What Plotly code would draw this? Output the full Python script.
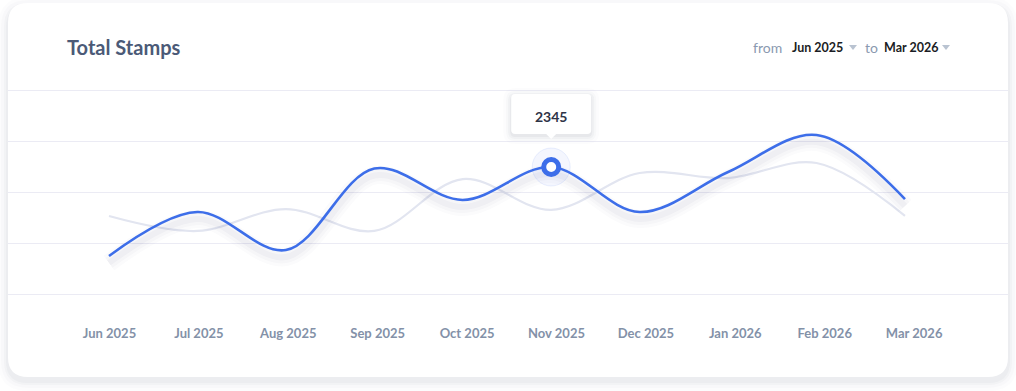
import plotly.graph_objects as go

# ---------------- data ----------------
months = ["Jun 2025", "Jul 2025", "Aug 2025", "Sep 2025", "Oct 2025",
          "Nov 2025", "Dec 2025", "Jan 2026", "Feb 2026", "Mar 2026"]
stamps_current = [1473, 1904, 1531, 2330, 2022, 2345, 1904, 2296, 2659, 2031]
stamps_previous = [1865, 1718, 1933, 1718, 2227, 1924, 2286, 2237, 2384, 1865]
highlight_month = "Nov 2025"
title_text = "Total Stamps"
range_from = "Jun 2025"
range_to = "Mar 2026"

# ---------------- geometry ----------------
W, H = 1016, 391
L, R, T, B = 8, 8, 87, 94
PW, PH = W - L - R, H - T - B
Y_BASE = H - B


def pxx(x):
    return (x - L) / PW


def pxy(y):
    return (Y_BASE - y) / PH


def rrect_paper(x0, y0, x1, y1, r):
    X0, X1, Yt, Yb = pxx(x0), pxx(x1), pxy(y0), pxy(y1)
    rx, ry = r / PW, r / PH
    return (f"M {X0+rx},{Yt} L {X1-rx},{Yt} Q {X1},{Yt} {X1},{Yt-ry} "
            f"L {X1},{Yb+ry} Q {X1},{Yb} {X1-rx},{Yb} L {X0+rx},{Yb} "
            f"Q {X0},{Yb} {X0},{Yb+ry} L {X0},{Yt-ry} Q {X0},{Yt} {X0+rx},{Yt} Z")


def rrect_px(x0, y0, x1, y1, r):
    # pixel offsets relative to anchor, y positive upward; y0 bottom, y1 top
    return (f"M {x0+r},{y1} L {x1-r},{y1} Q {x1},{y1} {x1},{y1-r} "
            f"L {x1},{y0+r} Q {x1},{y0} {x1-r},{y0} L {x0+r},{y0} "
            f"Q {x0},{y0} {x0},{y0+r} L {x0},{y1-r} Q {x0},{y1} {x0+r},{y1} Z")


BLUE = "#3d6ee9"
GRAY_LINE = "#e2e5f0"
FONT = "Lato"

hi = months.index(highlight_month)
units_per_px = 500 / 51
shadow_off = 7 * units_per_px
pad_units = 3 * units_per_px

fig = go.Figure()

# previous period line
fig.add_trace(go.Scatter(
    x=months, y=stamps_previous, mode="lines",
    line=dict(color=GRAY_LINE, width=2.2, shape="spline", smoothing=1.0),
    hoverinfo="skip", showlegend=False))

# soft shadow under the current line
for w, a in [(18, 0.018), (12, 0.025), (6, 0.03)]:
    fig.add_trace(go.Scatter(
        x=months, y=[v - shadow_off for v in stamps_current], mode="lines",
        line=dict(color=f"rgba(30,40,90,{a})", width=w, shape="spline", smoothing=1.0),
        hoverinfo="skip", showlegend=False))

# current line
fig.add_trace(go.Scatter(
    x=months, y=stamps_current, mode="lines",
    line=dict(color=BLUE, width=2.6, shape="spline", smoothing=1.0),
    hoverinfo="skip", showlegend=False))

# halo + ring marker
fig.add_trace(go.Scatter(
    x=[months[hi]], y=[stamps_current[hi]], mode="markers",
    marker=dict(size=38, color="rgba(61,110,233,0.06)",
                line=dict(color="rgba(61,110,233,0.10)", width=1)),
    hoverinfo="skip", showlegend=False))
fig.add_trace(go.Scatter(
    x=[months[hi]], y=[stamps_current[hi]], mode="markers",
    marker=dict(size=15, color="white", line=dict(color=BLUE, width=5)),
    hoverinfo="skip", showlegend=False))

# carrier for the label axis
fig.add_trace(go.Scatter(
    x=months, y=[None] * len(months), xaxis="x2", mode="lines",
    hoverinfo="skip", showlegend=False))

shapes = []
# card shadow + card
for g, a in [(10, 0.010), (7, 0.016), (4, 0.022), (2, 0.028)]:
    shapes.append(dict(type="path", xref="paper", yref="paper",
                       path=rrect_paper(8 - g, 3 - g + 4, 1008 + g, 377 + g + 4, 20 + g),
                       fillcolor=f"rgba(20,30,60,{a})", line=dict(width=0), layer="below"))
shapes.append(dict(type="path", xref="paper", yref="paper",
                   path=rrect_paper(8, 3, 1008, 377, 20),
                   fillcolor="white", line=dict(width=0), layer="below"))

# dropdown carets
for cx in (853, 946):
    shapes.append(dict(type="path", xref="paper", yref="paper",
                       path=f"M {pxx(cx-4)},{pxy(45)} L {pxx(cx+4)},{pxy(45)} L {pxx(cx)},{pxy(50)} Z",
                       fillcolor="#b9c3d1", line=dict(width=0), layer="above"))

# tooltip (pixel-sized, anchored at the highlighted point)
anchor = dict(xref="x", yref="y", xsizemode="pixel", ysizemode="pixel",
              xanchor=months[hi], yanchor=stamps_current[hi])
for g, a in [(8, 0.012), (5, 0.02), (3, 0.03), (1, 0.04)]:
    shapes.append(dict(type="path", path=rrect_px(-40 - g, 33 - g - 2, 40 + g, 73 + g - 2, 4 + g),
                       fillcolor=f"rgba(20,30,60,{a})", line=dict(width=0), layer="above", **anchor))
shapes.append(dict(type="path", path=rrect_px(-40, 33, 40, 73, 4),
                   fillcolor="white", line=dict(width=0), layer="above", **anchor))
shapes.append(dict(type="path", path="M -6,34 L 6,34 L 0,28 Z",
                   fillcolor="white", line=dict(width=0), layer="above", **anchor))

annotations = [
    dict(x=months[hi], y=stamps_current[hi], xref="x", yref="y", yshift=51,
         text=str(stamps_current[hi]), showarrow=False,
         font=dict(family=FONT, size=14, color="#2e3447", weight="bold")),
    dict(x=pxx(65), y=pxy(47), xref="paper", yref="paper", xanchor="left", yanchor="middle",
         text=title_text, showarrow=False,
         font=dict(family=FONT, size=20, color="#4b5a77", weight="bold")),
    dict(x=pxx(751), y=pxy(47), xref="paper", yref="paper", xanchor="left", yanchor="middle",
         text="from", showarrow=False, font=dict(family=FONT, size=14, color="#8a99b0")),
    dict(x=pxx(790), y=pxy(47), xref="paper", yref="paper", xanchor="left", yanchor="middle",
         text=range_from, showarrow=False,
         font=dict(family=FONT, size=12.5, color="#1b1d24", weight="bold")),
    dict(x=pxx(863), y=pxy(47), xref="paper", yref="paper", xanchor="left", yanchor="middle",
         text="to", showarrow=False, font=dict(family=FONT, size=14, color="#8a99b0")),
    dict(x=pxx(882), y=pxy(47), xref="paper", yref="paper", xanchor="left", yanchor="middle",
         text=range_to, showarrow=False,
         font=dict(family=FONT, size=12.5, color="#1b1d24", weight="bold")),
]

fig.update_layout(
    width=W, height=H,
    margin=dict(l=L, r=R, t=T, b=B, pad=0),
    paper_bgcolor="white", plot_bgcolor="rgba(0,0,0,0)",
    showlegend=False, hovermode=False,
    font=dict(family=FONT),
    xaxis=dict(type="category", categoryorder="array", categoryarray=months,
               range=[-1.142, 10.165], showticklabels=False, showgrid=False,
               zeroline=False, showline=False, ticks="", fixedrange=True),
    xaxis2=dict(type="category", categoryorder="array", categoryarray=months,
                overlaying="x", anchor="y", side="bottom",
                range=[-1.135, 10.05], showgrid=False, zeroline=False, showline=False,
                ticks="", ticklabelstandoff=27, fixedrange=True,
                tickfont=dict(family=FONT, size=13, color="#8391a8", weight="bold")),
    yaxis=dict(range=[1100 - pad_units, 3100 + pad_units], tickmode="linear", tick0=1100, dtick=500,
               showticklabels=False, gridcolor="#ebebf4", gridwidth=1,
               zeroline=False, showline=False, fixedrange=True),
    shapes=shapes,
    annotations=annotations,
)

fig.write_html("out.html", config={"displayModeBar": False},
               post_script="document.body.style.margin='0';")
